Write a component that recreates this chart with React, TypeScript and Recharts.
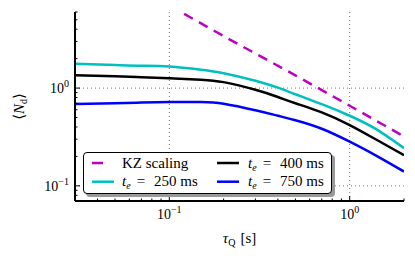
import React from 'react';
import { LineChart, Line, XAxis, YAxis, ReferenceLine, Legend } from 'recharts';

// quench times (s) and mean defect number
const TAU_Q = [0.03, 0.05, 0.07, 0.1, 0.15, 0.2, 0.3, 0.4, 0.5, 0.7, 1.0, 1.4, 2.0];
const N_TE_250 = [1.77, 1.72, 1.69, 1.66, 1.54, 1.42, 1.19, 1.01, 0.865, 0.684, 0.521, 0.38, 0.243];
const N_TE_400 = [1.35, 1.32, 1.29, 1.26, 1.22, 1.15, 0.96, 0.81, 0.7, 0.565, 0.419, 0.298, 0.206];
const N_TE_750 = [0.687, 0.7, 0.711, 0.72, 0.72, 0.692, 0.593, 0.521, 0.469, 0.384, 0.283, 0.204, 0.14];

const KZ_TAU = [0.1, 0.2, 0.5, 1.0, 2.0];
const KZ_N = [7.0, 3.4, 1.35, 0.66, 0.32];

const X_TICKS = [0.03, 0.04, 0.05, 0.06, 0.07, 0.08, 0.09, 0.1, 0.2, 0.3, 0.4, 0.5, 0.6, 0.7, 0.8, 0.9, 1, 2];
const Y_TICKS = [0.07, 0.08, 0.09, 0.1, 0.2, 0.3, 0.4, 0.5, 0.6, 0.7, 0.8, 0.9, 1, 2, 3, 4, 5, 6];
const GRID_X = [0.1, 1];
const GRID_Y = [0.1, 1];

const FONT = "'Times New Roman', 'Liberation Serif', 'DejaVu Serif', serif";

const toRows = (xs: number[], ys: number[]) => xs.map((tau, i) => ({ tau, n: ys[i] }));

const supText = (exp: number) => (exp < 0 ? '\u2212' + Math.abs(exp) : String(exp));

const makeTick = (side: 'bottom' | 'top' | 'left' | 'right', showLabel: boolean) => (props: any) => {
    const { x, y, payload } = props;
    const lg = Math.log10(payload.value);
    const exp = Math.round(lg);
    const major = Math.abs(lg - exp) < 1e-6;
    const len = major ? 5 : 2.5;
    let line;
    if (side === 'bottom') line = <line x1={x} x2={x} y1={y} y2={y - len} stroke="#000" />;
    else if (side === 'top') line = <line x1={x} x2={x} y1={y} y2={y + len} stroke="#000" />;
    else if (side === 'left') line = <line x1={x} x2={x + len} y1={y} y2={y} stroke="#000" />;
    else line = <line x1={x} x2={x - len} y1={y} y2={y} stroke="#000" />;

    let label = null;
    if (showLabel && major) {
        if (side === 'bottom') {
            label = (
                <text x={x} y={y + 18} textAnchor="middle" fontSize={14} style={{ fontFamily: FONT }} fill="#000">
                    10<tspan fontSize={10} dy={-6}>{supText(exp)}</tspan>
                </text>
            );
        } else {
            label = (
                <text x={x - 6} y={y + 5} textAnchor="end" fontSize={14} style={{ fontFamily: FONT }} fill="#000">
                    10<tspan fontSize={10} dy={-6}>{supText(exp)}</tspan>
                </text>
            );
        }
    }
    return (
        <g>
            {line}
            {label}
        </g>
    );
};

const XTitle = (p: any) => {
    const vb = p.viewBox || { x: 75, y: 201, width: 329, height: 58 };
    return (
        <text x={vb.x + vb.width / 2} y={vb.y + 42} textAnchor="middle" fontSize={15} style={{ fontFamily: FONT }} fill="#000">
            <tspan fontStyle="italic">τ</tspan>
            <tspan fontSize={10} dy={3}>Q</tspan>
            <tspan dy={-3} dx={5}>[s]</tspan>
        </text>
    );
};

const YTitle = (p: any) => {
    const vb = p.viewBox || { x: 0, y: 12, width: 75, height: 189 };
    const cx = vb.x + 24;
    const cy = vb.y + vb.height / 2;
    return (
        <text transform={`translate(${cx},${cy}) rotate(-90)`} textAnchor="middle" fontSize={15} style={{ fontFamily: FONT }} fill="#000">
            ⟨<tspan fontStyle="italic">N</tspan>
            <tspan fontSize={10} dy={3}>d</tspan>
            <tspan dy={-3}>⟩</tspan>
        </text>
    );
};

const LegendLabel = ({ x, y, value }: { x: number; y: number; value: string }) => {
    const m = /^t_e = (.+)$/.exec(value);
    if (!m) {
        return (
            <text x={x} y={y} fontSize={15} style={{ fontFamily: FONT }} fill="#000">
                {value}
            </text>
        );
    }
    return (
        <text x={x} y={y} fontSize={15} style={{ fontFamily: FONT }} fill="#000">
            <tspan fontStyle="italic">t</tspan>
            <tspan fontStyle="italic" fontSize={10} dy={3}>e</tspan>
            <tspan dy={-3} dx={6}>=</tspan>
            <tspan dx={9}>{m[1]}</tspan>
        </text>
    );
};

const LegendBox = (props: any) => {
    const items = props.payload || [];
    const colSample = [9, 134];
    const colText = [39, 165];
    const rowLine = [11, 29.7];
    const rowText = [16, 33.5];
    return (
        <div
            style={{
                position: 'relative',
                width: 249,
                height: 42,
                boxSizing: 'border-box',
                border: '1.5px solid #000',
                borderRadius: 4,
                background: '#fff',
                boxShadow: '3px 3px 0 #999',
            }}
        >
            <svg width={249} height={42} style={{ position: 'absolute', left: -1.5, top: -1.5, overflow: 'visible' }}>
                {items.map((it: any, i: number) => {
                    const col = Math.floor(i / 2);
                    const row = i % 2;
                    const dashed = it.payload && it.payload.strokeDasharray;
                    return (
                        <g key={it.value}>
                            <line
                                x1={colSample[col]}
                                x2={colSample[col] + 22}
                                y1={rowLine[row]}
                                y2={rowLine[row]}
                                stroke={it.color}
                                strokeWidth={2.5}
                                strokeDasharray={dashed ? '11 12' : undefined}
                            />
                            <LegendLabel x={colText[col]} y={rowText[row]} value={it.value} />
                        </g>
                    );
                })}
            </svg>
        </div>
    );
};

const App: React.FC = () => {
    const kz = toRows(KZ_TAU, KZ_N);
    const s250 = toRows(TAU_Q, N_TE_250);
    const s400 = toRows(TAU_Q, N_TE_400);
    const s750 = toRows(TAU_Q, N_TE_750);
    const axisLine = { stroke: '#000', strokeWidth: 2 };

    return (
        <div style={{ position: 'absolute', left: 0, top: 0, width: 415, height: 259, background: '#fff', fontFamily: FONT }}>
            <LineChart width={415} height={259} margin={{ top: 12, right: 11, bottom: 0, left: 0 }}>
                <XAxis
                    xAxisId="b"
                    dataKey="tau"
                    type="number"
                    scale="log"
                    domain={[0.03, 2]}
                    allowDataOverflow
                    ticks={X_TICKS}
                    interval={0}
                    tickLine={false}
                    tickSize={0}
                    tickMargin={0}
                    height={58}
                    axisLine={axisLine}
                    tick={makeTick('bottom', true)}
                    label={XTitle}
                />
                <XAxis
                    xAxisId="t"
                    orientation="top"
                    dataKey="tau"
                    type="number"
                    scale="log"
                    domain={[0.03, 2]}
                    allowDataOverflow
                    ticks={X_TICKS}
                    interval={0}
                    tickLine={false}
                    tickSize={0}
                    tickMargin={0}
                    height={0}
                    axisLine={axisLine}
                    tick={makeTick('top', false)}
                />
                <YAxis
                    yAxisId="l"
                    type="number"
                    scale="log"
                    domain={[0.07, 6]}
                    allowDataOverflow
                    ticks={Y_TICKS}
                    interval={0}
                    tickLine={false}
                    tickSize={0}
                    tickMargin={0}
                    width={75}
                    axisLine={axisLine}
                    tick={makeTick('left', true)}
                    label={YTitle}
                />
                <YAxis
                    yAxisId="r"
                    orientation="right"
                    type="number"
                    scale="log"
                    domain={[0.07, 6]}
                    allowDataOverflow
                    ticks={Y_TICKS}
                    interval={0}
                    tickLine={false}
                    tickSize={0}
                    tickMargin={0}
                    width={0}
                    axisLine={axisLine}
                    tick={makeTick('right', false)}
                />
                {GRID_X.map(v => (
                    <ReferenceLine key={`gx${v}`} x={v} xAxisId="b" yAxisId="l" stroke="#777" strokeDasharray="1 3" />
                ))}
                {GRID_Y.map(v => (
                    <ReferenceLine key={`gy${v}`} y={v} xAxisId="b" yAxisId="l" stroke="#777" strokeDasharray="1 3" />
                ))}
                <Line data={kz} dataKey="n" name="KZ scaling" xAxisId="b" yAxisId="l" type="linear" stroke="#BF00BF" strokeWidth={2.5} strokeDasharray="10 7" dot={false} isAnimationActive={false} />
                <Line data={s250} dataKey="n" name="t_e = 250 ms" xAxisId="b" yAxisId="l" type="natural" stroke="#00BFBF" strokeWidth={2.5} dot={false} isAnimationActive={false} />
                <Line data={s400} dataKey="n" name="t_e = 400 ms" xAxisId="b" yAxisId="l" type="natural" stroke="#000000" strokeWidth={2.5} dot={false} isAnimationActive={false} />
                <Line data={s750} dataKey="n" name="t_e = 750 ms" xAxisId="b" yAxisId="l" type="natural" stroke="#0000FF" strokeWidth={2.5} dot={false} isAnimationActive={false} />
                <Legend
                    layout="horizontal"
                    verticalAlign="middle"
                    content={LegendBox}
                    wrapperStyle={{ position: 'absolute', left: 83, top: 152, width: 249, height: 42 }}
                />
            </LineChart>
        </div>
    );
};

export default App;
